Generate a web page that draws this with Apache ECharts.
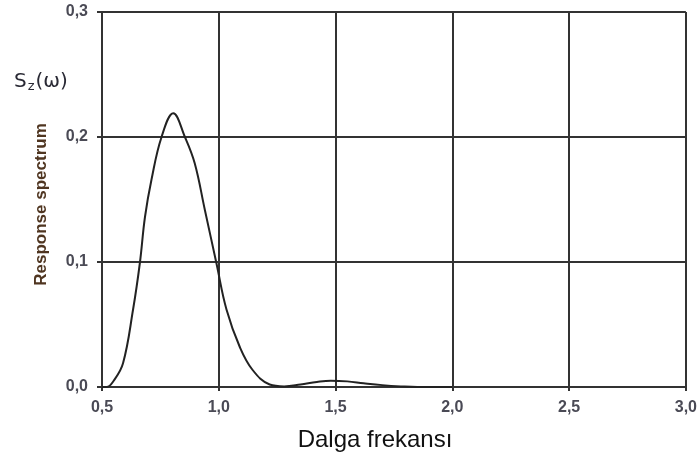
<!DOCTYPE html>
<html><head><meta charset="utf-8">
<script src="https://cdn.jsdelivr.net/npm/echarts@6/dist/echarts.min.js"></script>
<style>html,body{margin:0;padding:0;background:#fff}#c{width:700px;height:463px}</style>
</head><body><div id="c"></div>
<script>
var omega = [0.50,0.52,0.55,0.59,0.633,0.662,0.684,0.712,0.755,0.805,0.855,0.897,0.94,0.99,1.033,1.09,1.145,1.218,1.28,1.35,1.42,1.48,1.55,1.62,1.70,1.78,1.85,2.0];
var spectrum = [0.0,0.0,0.005,0.019,0.062,0.099,0.136,0.166,0.200,0.219,0.200,0.179,0.142,0.099,0.062,0.032,0.0136,0.002,0.0005,0.002,0.004,0.005,0.0045,0.003,0.0015,0.0005,0.0,0.0];
var xTicks = ['0,5','1,0','1,5','2,0','2,5','3,0'];
var yTicks = ['0,0','0,1','0,2','0,3'];
var xTitle = 'Dalga frekansı';
var yTitle = 'Response spectrum';
var seriesData = omega.map(function(w,i){return [w, spectrum[i]];});
var chart = echarts.init(document.getElementById('c'));
chart.setOption({
  animation:false,
  grid:{left:102,right:14,top:12,bottom:76,containLabel:false},
  xAxis:{type:'value',min:0.5,max:3.0,interval:0.5,
    axisLine:{lineStyle:{color:'#333',width:2}},
    axisTick:{show:true,length:4,lineStyle:{color:'#333',width:2}},
    axisLabel:{formatter:function(v){var i=Math.round((v-0.5)/0.5);return xTicks[i];},fontFamily:'Liberation Sans, Arial',fontSize:16,fontWeight:'bold',color:'#4a4a55',margin:13},
    splitLine:{show:true,lineStyle:{color:'#333',width:2}}},
  yAxis:{type:'value',min:0,max:0.3,interval:0.1,
    name:yTitle,nameLocation:'middle',nameGap:52,nameRotate:90,
    nameTextStyle:{fontFamily:'Liberation Sans, Arial',fontSize:17,fontWeight:'bold',color:'#4f3520',padding:[0,10,0,0]},
    axisLine:{show:true,lineStyle:{color:'#333',width:2}},
    axisTick:{show:true,length:5,lineStyle:{color:'#333',width:2}},
    axisLabel:{formatter:function(v){var i=Math.round(v/0.1);return yTicks[i];},fontFamily:'Liberation Sans, Arial',fontSize:16,fontWeight:'bold',color:'#4a4a55',margin:14},
    splitLine:{show:true,lineStyle:{color:'#333',width:2}}},
  graphic:[
    {type:'text',left:14,top:72,style:{
      text:'{s|S}{sub|z}{s|(ω)}',
      rich:{s:{fontFamily:'DejaVu Sans',fontSize:20,fill:'#2a2a35'},sub:{fontFamily:'DejaVu Sans',fontSize:13,fill:'#2a2a35',verticalAlign:'bottom',padding:[10,1,0,1]}}}},
    {type:'text',x:375,y:440,style:{text:xTitle,fontFamily:'Liberation Sans, Arial',fontSize:24,fill:'#111',align:'center',verticalAlign:'middle'}}
  ],
  series:[{type:'line',data:seriesData,smooth:0.4,showSymbol:false,lineStyle:{color:'#222',width:2}}]
});
</script></body></html>
